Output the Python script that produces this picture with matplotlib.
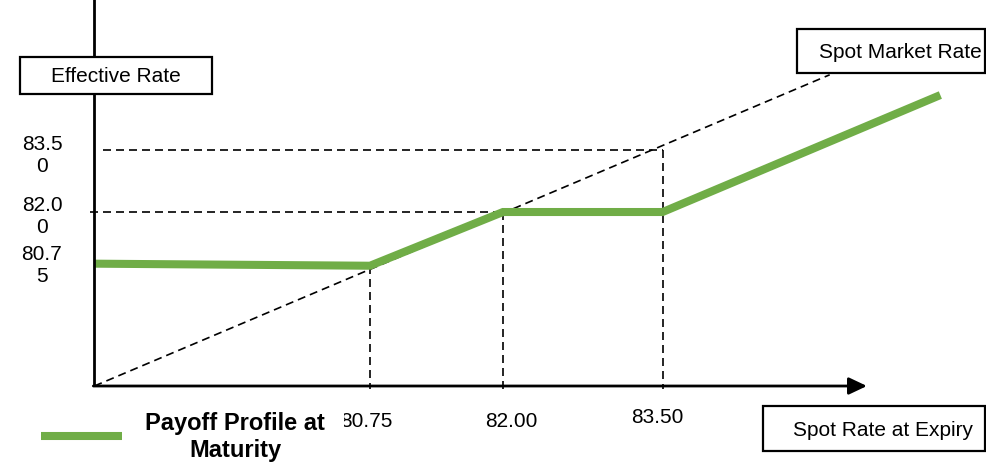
import matplotlib.pyplot as plt
from matplotlib.patches import Rectangle
from matplotlib.transforms import blended_transform_factory

plt.rcParams['font.family'] = ['Liberation Sans', 'DejaVu Sans']

# strike levels on both axes
strikes = [80.75, 82.00, 83.50]
y_levels = [83.50, 82.00, 80.75]

# payoff profile at maturity (spot rate -> effective rate)
payoff_x = [78.16, 80.75, 82.00, 83.50, 86.11]
payoff_y = [80.75, 80.70, 82.00, 82.00, 84.83]

# spot market rate reference line
spot_x = [78.16, 85.07]
spot_y = [77.79, 85.32]

origin = (78.16, 77.79)
x_axis_end = 85.42
y_axis_end = 87.16

GREEN = '#70AD47'
W, H = 986, 464

fig = plt.figure(figsize=(W / 100, H / 100), dpi=100)
ax = fig.add_axes([0, 0, 1, 1])
ax.set_xlim(77.273, 86.539)
ax.set_ylim(75.927, 87.154)
ax.axis('off')


def px(x, y):
    # pixel position -> axes fraction
    return x / W, 1 - y / H


dash = dict(color='black', lw=1.2, dashes=(4.8, 3))

# spot market rate diagonal
ax.plot(spot_x, spot_y, **dash, zorder=2)

# guide lines from the strikes
ax.plot([78.24, strikes[2]], [y_levels[0], y_levels[0]], **dash, zorder=2)
ax.plot([78.12, strikes[1]], [y_levels[1], y_levels[1]], **dash, zorder=2)
ax.plot([strikes[0], strikes[0]], [payoff_y[1], origin[1] - 0.07], **dash, zorder=2)
ax.plot([strikes[1], strikes[1]], [y_levels[1], origin[1] - 0.07], **dash, zorder=2)
ax.plot([strikes[2], strikes[2]], [y_levels[0], origin[1] - 0.07], **dash, zorder=2)

# payoff line
ax.plot(payoff_x, payoff_y, color=GREEN, lw=5.8, solid_capstyle='butt',
        solid_joinstyle='miter', zorder=3)

# axes
ax.plot([origin[0], origin[0]], [origin[1], y_axis_end], color='black', lw=2,
        zorder=4, solid_capstyle='butt')
ax.annotate('', xy=(x_axis_end, origin[1]), xytext=(origin[0] - 0.01, origin[1]),
            arrowprops=dict(arrowstyle='-|>,head_length=0.55,head_width=0.26',
                            lw=2, color='black', mutation_scale=20,
                            shrinkA=0, shrinkB=0), zorder=4)

# y labels, wrapped like the original
offsets = [4.5, 3.5, 0.5]
for v, off in zip(y_levels, offsets):
    s = f'{v:.2f}'
    ax.annotate(s[:4] + '\n' + s[4:], xy=(0, v), xycoords=('axes fraction', 'data'),
                xytext=(42, -off), textcoords='offset pixels',
                ha='center', va='center', fontsize=15, multialignment='center')

# x labels (slightly off their guide lines)
x_label_dx = [-4, 8, -5]
x_label_y = [422, 422, 418]
for v, dx, yp in zip(strikes, x_label_dx, x_label_y):
    ax.annotate(f'{v:.2f}', xy=(v, 1 - yp / H), xycoords=('data', 'axes fraction'),
                xytext=(dx, 0), textcoords='offset pixels',
                ha='center', va='center', fontsize=15, zorder=5)

# boxed captions
def boxed(x0, y0, x1, y1, text, tx, ty):
    bx, by = px(x0, y1)
    rect = Rectangle((bx, by), (x1 - x0) / W, (y1 - y0) / H, transform=ax.transAxes,
                     facecolor='white', edgecolor='black', lw=1.6, zorder=6)
    ax.add_patch(rect)
    cx, cy = px(tx, ty)
    ax.text(cx, cy, text, transform=ax.transAxes, ha='center', va='center',
            fontsize=15, zorder=7)


boxed(20, 58, 212, 95, 'Effective Rate', 116, 77)
boxed(797, 30, 985, 74, 'Spot Market Rate', 900, 53)
boxed(763, 407, 985, 452, 'Spot Rate at Expiry', 883, 431)

# legend
lx0, ly = px(41, 437)
lx1, _ = px(122, 437)
ax.plot([lx0, lx1], [ly, ly], transform=ax.transAxes, color=GREEN, lw=5.8,
        solid_capstyle='butt', zorder=6)
tx, ty = px(235, 437)
ax.text(tx, ty, 'Payoff Profile at\nMaturity', transform=ax.transAxes,
        ha='center', va='center', fontsize=17, fontweight='bold',
        multialignment='center', zorder=8,
        bbox=dict(boxstyle='square,pad=0.8', facecolor='white', edgecolor='none'))

fig.savefig('out.png', dpi=100)
